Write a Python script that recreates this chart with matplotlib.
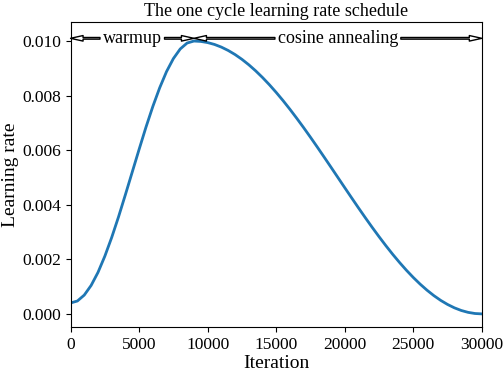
import matplotlib
matplotlib.use('Agg')
import matplotlib.pyplot as plt

plt.rcParams['font.family'] = ['Liberation Serif', 'DejaVu Serif']
plt.rcParams['font.size'] = 12.5

# iterations read every 500 steps
iterations = list(range(0, 30500, 500))
# warmup part (0 -> 9000) then cosine annealing (9000 -> 30000)
learningRate = [0.000400, 0.000473, 0.000690, 0.001043, 0.001520, 0.002115, 0.002800, 0.003558,
                0.004370, 0.005200, 0.006030, 0.006842, 0.007600, 0.008285, 0.008880, 0.009357,
                0.009710, 0.009927, 0.010000, 0.009986, 0.009944, 0.009875, 0.009778, 0.009654,
                0.009505, 0.009330, 0.009131, 0.008909, 0.008665, 0.008401, 0.008117, 0.007817,
                0.007500, 0.007169, 0.006827, 0.006474, 0.006113, 0.005745, 0.005374, 0.005000,
                0.004626, 0.004255, 0.003887, 0.003526, 0.003173, 0.002831, 0.002500, 0.002183,
                0.001883, 0.001599, 0.001335, 0.001091, 0.000869, 0.000670, 0.000495, 0.000346,
                0.000222, 0.000125, 0.000056, 0.000014, 0.000000]

phaseNames = ['warmup', 'cosine annealing']
phaseStart = [0, 9000]
phaseEnd = [9000, 30000]
arrowLevel = 0.0101

fig = plt.figure(figsize=(5.04, 3.72), dpi=100)
ax = fig.add_axes([0.140, 0.121, 0.816, 0.820])
ax.plot(iterations, learningRate, color='#1f77b4', lw=2)
ax.set_xlim(0, 30000)
ax.set_ylim(-0.00048, 0.0107)

arrowProps = dict(facecolor='white', edgecolor='black', lw=1, width=1.2, headwidth=4, headlength=9, shrink=0)
for name, start, end in zip(phaseNames, phaseStart, phaseEnd):
    mid = (start + end) / 2
    ax.annotate(name, xy=(start, arrowLevel), xytext=(mid, arrowLevel), ha='center', va='center',
                fontsize=13, arrowprops=arrowProps)
    ax.annotate(name, xy=(end, arrowLevel), xytext=(mid, arrowLevel), ha='center', va='center',
                fontsize=13, color='none', arrowprops=arrowProps)

ax.set_title('The one cycle learning rate schedule', fontsize=13, pad=4)
ax.set_xlabel('Iteration', fontsize=14, labelpad=2)
ax.set_ylabel('Learning rate', fontsize=14, labelpad=2)

fig.savefig('out.png', dpi=100)
